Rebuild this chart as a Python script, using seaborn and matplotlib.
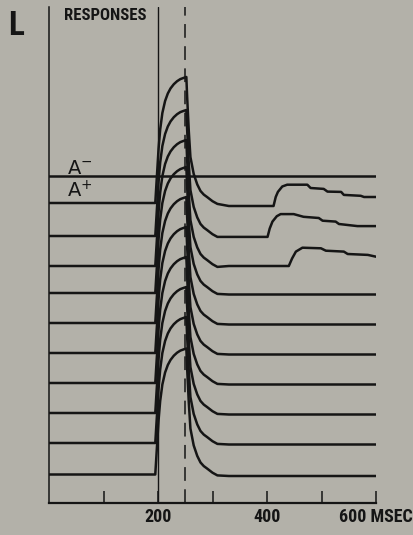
import numpy as np
import pandas as pd
import matplotlib
matplotlib.use("Agg")
import matplotlib.pyplot as plt
import seaborn as sns
from matplotlib import font_manager

# ---------------- data ----------------
# common response waveform (time in ms, amplitude in trace-spacing units)
template_t = [0, 195, 198, 201, 204, 208, 213, 218, 223, 229, 235, 241, 247, 252,
              253.5, 256.5, 259.5, 265.5, 272, 278, 284, 290, 300, 309, 330, 600]
template_v = [0, 0, 0.9, 1.8, 2.45, 3.0, 3.4, 3.65, 3.82, 3.96, 4.06, 4.13, 4.17, 4.2,
              3.53, 2.4, 1.53, 0.97, 0.62, 0.4, 0.28, 0.2, 0.06, -0.03, -0.05, -0.05]

# baselines of the ten A+ traces (top to bottom) and of the A- trace
aplus_baselines = [10.0, 8.9, 7.9, 7.0, 6.0, 5.0, 4.0, 3.0, 2.0, 0.95]
aminus_level = 10.9

# late components of the first three A+ traces (replace the tail after 309 ms)
late1_t = [330, 412, 416, 420, 428, 437, 474, 480, 504, 511, 536, 541, 572, 578, 600]
late1_v = [-0.1, -0.1, 0.2, 0.37, 0.55, 0.61, 0.61, 0.5, 0.47, 0.38, 0.37, 0.27, 0.24, 0.2, 0.2]
late2_t = [330, 401, 405, 410, 418, 425, 449, 467, 495, 502, 526, 532, 566, 600]
late2_v = [-0.03, -0.03, 0.25, 0.48, 0.66, 0.73, 0.73, 0.64, 0.6, 0.51, 0.48, 0.4, 0.33, 0.33]
late3_t = [330, 440, 446, 453, 465, 499, 508, 541, 548, 585, 600]
late3_v = [0, 0, 0.25, 0.48, 0.61, 0.59, 0.51, 0.48, 0.4, 0.37, 0.31]
late_parts = {0: (late1_t, late1_v), 1: (late2_t, late2_v), 2: (late3_t, late3_v)}

tick_positions = [100, 200, 300, 400, 500, 600]
tick_labels = ["", "200", "", "400", "", "600 MSEC"]

# ---------------- build long-form table ----------------
rows = []
n_head = template_t.index(309) + 1
for i, base in enumerate(aplus_baselines):
    if i in late_parts:
        lt, lv = late_parts[i]
        ts = template_t[:n_head] + lt
        vs = template_v[:n_head] + lv
    else:
        ts, vs = template_t, template_v
    for t, v in zip(ts, vs):
        rows.append({"trace": f"A+{i}", "t": t, "y": base + v})
for t in (0, 600):
    rows.append({"trace": "A-", "t": t, "y": aminus_level})
df = pd.DataFrame(rows)

# ---------------- style ----------------
BG = "#b3b1a9"
INK = "#151515"
sns.set_theme(style="white")
avail = {f.name for f in font_manager.fontManager.ttflist}
narrow = None
for cand in ["Liberation Sans Narrow", "Roboto Condensed", "DejaVu Sans Condensed"]:
    if cand in avail:
        narrow = cand
        break
if narrow is None:
    narrow = "DejaVu Sans"
    lab_size, resp_size, l_size = 10, 10, 20
else:
    lab_size, resp_size, l_size = 13, 12, 24
plt.rcParams["font.family"] = ["DejaVu Sans"]

fig = plt.figure(figsize=(4.13, 5.35), dpi=100, facecolor=BG)
ax = fig.add_axes([49 / 413, 32 / 535, 327 / 413, 496 / 535])
ax.set_facecolor(BG)

sns.lineplot(data=df, x="t", y="y", units="trace", estimator=None, sort=False,
             color=INK, lw=1.8, ax=ax, legend=False)

ax.set_xlim(0, 600)
ax.set_ylim(0, 496 / 30)
ax.axvline(200, color=INK, lw=1.0)
ax.axvline(250, color=INK, lw=1.1, dashes=(9, 5.5))

for s in ("top", "right"):
    ax.spines[s].set_visible(False)
ax.spines["left"].set_linewidth(1.1)
ax.spines["left"].set_color(INK)
ax.spines["bottom"].set_linewidth(1.6)
ax.spines["bottom"].set_color(INK)

ax.set_yticks([])
ax.set_xticks(tick_positions)
ax.set_xticklabels(tick_labels, fontfamily=narrow, fontweight="bold",
                   fontstretch="condensed", fontsize=lab_size, color=INK)
ax.tick_params(axis="x", which="major", bottom=True, direction="in", length=8.5,
               width=1.1, pad=3.5, colors=INK)
ax.set_xlabel("")
ax.set_ylabel("")

ax.text(33, aminus_level + 0.05, r"A$^{-}$", fontsize=14, color=INK, va="baseline", ha="left")
ax.text(33, 10.2, r"A$^{+}$", fontsize=14, color=INK, va="baseline", ha="left")

fig.text(8 / 413, 1 - 35 / 535, "L", fontfamily=narrow, fontweight="bold",
         fontstretch="condensed", fontsize=l_size, color=INK, ha="left", va="baseline")
fig.text(105 / 413, 1 - 16 / 535, "RESPONSES", fontfamily=narrow, fontweight="bold",
         fontstretch="condensed", fontsize=resp_size, color=INK, ha="center", va="center")

fig.savefig("out.png", dpi=100, facecolor=BG)
